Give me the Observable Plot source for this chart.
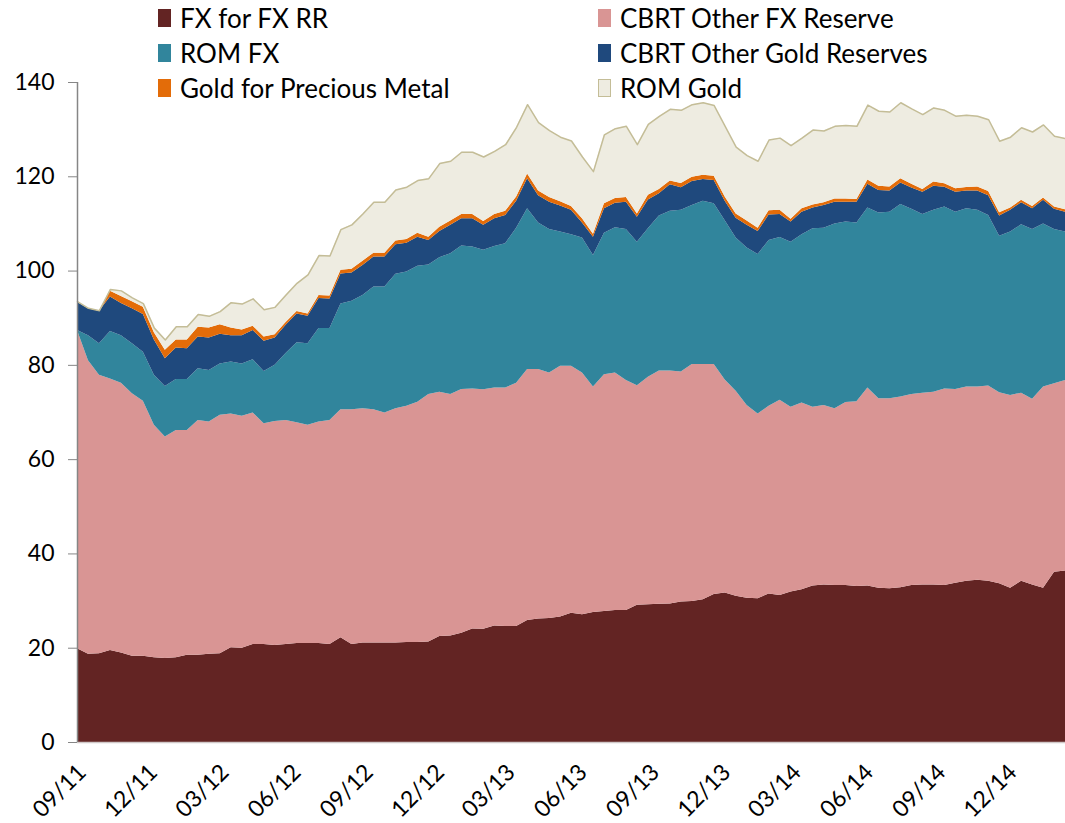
<!DOCTYPE html>
<html><head><meta charset="utf-8">
<script src="https://cdn.jsdelivr.net/npm/d3@7"></script>
<script src="https://cdn.jsdelivr.net/npm/@observablehq/plot@0.6"></script>
<style>
body{margin:0;background:#fff;font-family:Lato,"Open Sans",sans-serif;}
#wrap{position:relative;width:1065px;height:823px;overflow:hidden;}
#legend{position:absolute;left:0;top:0;width:1065px;height:110px;}
.item{position:absolute;display:flex;align-items:center;font-size:26px;color:#000;line-height:30px;height:30px;white-space:nowrap;}
.sw{width:13px;height:18px;margin-right:9px;box-sizing:border-box;}
</style></head>
<body><div id="wrap"><div id="chart"></div><div id="legend"></div></div>
<script>
const seriesNames = ["FX for FX RR","CBRT Other FX Reserve","ROM FX","CBRT Other Gold Reserves","Gold for Precious Metal","ROM Gold"];
const seriesColors = ["#632423","#D99594","#31859C","#1F497D","#E36C09","#EEECE1"];
const startDate = "2011-08-26"; // bi-weekly observations
const stepDays = 14;
const xTickLabels = ["09/11","12/11","03/12","06/12","09/12","12/12","03/13","06/13","09/13","12/13","03/14","06/14","09/14","12/14"];
const yTicks = [0,20,40,60,80,100,120,140];

const fxForFxRR = [19.9,18.7,18.8,19.5,19.0,18.3,18.3,18.0,17.8,18.0,18.5,18.5,18.7,18.8,20.1,20.0,20.8,20.8,20.6,20.8,21.0,21.0,21.0,20.8,22.2,20.8,21.1,21.1,21.1,21.1,21.2,21.2,21.3,22.5,22.6,23.2,24.1,24.0,24.7,24.6,24.6,25.9,26.2,26.3,26.6,27.4,27.1,27.6,27.8,28.0,28.0,29.1,29.2,29.3,29.4,29.8,29.9,30.3,31.4,31.7,31.0,30.6,30.5,31.5,31.2,31.9,32.4,33.2,33.4,33.3,33.3,33.1,33.2,32.7,32.6,32.8,33.3,33.4,33.4,33.3,33.8,34.2,34.4,34.2,33.7,32.7,34.2,33.4,32.7,36.1,36.4];
const cbrtOtherFX = [67.5,62.3,59.1,57.6,57.2,55.7,54.1,49.3,47.0,48.2,47.7,49.8,49.3,50.6,49.6,49.2,49.1,46.8,47.5,47.5,46.8,46.3,47.0,47.5,48.4,49.8,49.7,49.5,48.8,49.7,50.1,51.0,52.5,51.8,51.2,51.7,50.9,50.8,50.5,50.6,51.6,53.2,52.9,52.1,53.2,52.4,51.3,47.8,50.2,50.4,48.8,46.6,48.3,49.5,49.4,48.8,50.3,49.9,48.8,45.2,43.5,40.9,39.2,39.8,41.4,39.2,39.6,37.9,38.1,37.5,38.8,39.2,42.0,40.2,40.3,40.5,40.5,40.7,40.9,41.7,41.1,41.2,41.0,41.4,40.5,40.9,39.9,39.4,42.7,40.0,40.4];
const romFX = [0,5.3,6.7,10.1,10.1,10.6,10.4,10.6,10.7,10.8,10.8,11.0,10.9,10.9,11.0,11.1,11.3,11.1,11.9,14.2,17.0,17.3,19.8,19.5,22.4,23.0,24.0,26.0,26.7,28.5,28.5,28.8,27.5,28.5,29.9,30.4,30.1,29.6,30.0,30.6,32.9,34.1,31.1,30.4,28.5,27.9,28.6,27.9,30.0,30.8,32.0,30.4,31.5,32.9,33.9,34.3,33.7,34.6,34.1,33.8,32.5,33.4,33.8,35.2,34.5,35.0,35.7,37.9,37.6,39.2,38.3,37.9,38.2,39.4,39.6,40.8,39.3,37.9,38.6,38.6,37.6,37.8,37.5,36.2,33.2,34.7,35.7,36.0,34.6,32.7,31.5];
const cbrtOtherGold = [6.0,5.7,6.9,7.3,6.8,7.4,8.0,7.5,5.9,6.7,6.5,6.7,6.9,6.3,5.6,6.0,6.2,6.4,5.8,6.0,6.1,5.8,6.4,6.3,6.4,6.0,6.4,6.4,6.4,6.3,6.1,6.2,5.2,5.6,6.0,5.8,6.0,5.3,5.9,6.0,5.7,6.4,5.8,5.8,5.5,5.2,3.2,3.9,5.2,5.2,5.8,5.3,6.1,4.7,5.6,4.8,5.1,4.6,4.9,4.1,4.2,4.8,4.9,5.4,4.9,4.3,4.8,4.4,4.8,4.6,4.2,4.4,5.0,4.8,4.5,4.6,4.5,4.7,5.1,4.2,4.2,3.8,4.1,4.2,4.3,4.6,4.7,4.4,5.0,4.3,4.2];
const goldPreciousMetal = [0,0,0,1.2,1.5,1.5,1.5,1.5,1.8,1.7,1.9,2.1,2.1,2.0,1.6,1.2,0.9,0.9,0.7,0.6,0.5,0.5,0.6,0.6,0.8,0.8,0.9,0.8,0.8,0.8,0.8,0.8,0.7,0.9,0.9,0.9,0.9,0.8,0.9,0.9,0.9,1.0,1.0,1.0,0.9,0.8,0.9,0.6,1.1,1.0,1.0,0.7,1.0,0.9,0.8,0.9,0.9,0.9,0.9,0.9,0.9,0.9,0.7,0.9,0.9,0.6,0.7,0.6,0.6,0.7,0.7,0.6,0.9,0.9,0.85,0.9,0.8,0.6,0.9,0.7,0.75,0.75,0.85,0.9,0.65,0.5,0.5,0.5,0.5,0.5,0.5];
const romGold = [0.1,0.1,0.1,0.4,1.2,0.8,0.8,1.0,2.2,2.8,2.8,2.7,2.5,2.8,5.4,5.5,5.8,5.8,5.8,5.8,6.0,8.3,8.5,8.5,8.6,9.4,10.0,10.8,10.8,10.8,11.1,11.2,12.4,13.5,12.7,13.2,13.2,13.7,13.4,14.1,14.8,14.7,14.5,14.2,13.7,13.9,13.1,13.3,14.6,14.8,15.1,14.7,15.0,15.5,15.2,15.5,15.4,15.4,15.0,15.0,14.2,13.9,14.2,15.0,15.3,15.6,15.0,15.9,15.2,15.4,15.6,15.5,15.9,15.9,15.9,16.1,16.0,15.9,15.7,15.6,15.4,15.3,15.0,15.2,15.2,15.0,15.4,15.8,15.5,15.0,15.1];

const seriesValues = [fxForFxRR, cbrtOtherFX, romFX, cbrtOtherGold, goldPreciousMetal, romGold];
const start = d3.utcParse("%Y-%m-%d")(startDate);
const dates = fxForFxRR.map((_, i) => d3.utcDay.offset(start, stepDays * i));
const xTicks = xTickLabels.map(d3.utcParse("%m/%y"));

const rows = [];
seriesNames.forEach((name, s) => {
  seriesValues[s].forEach((v, i) => rows.push({date: dates[i], series: name, value: v}));
});

const chart = Plot.plot({
  width: 1065, height: 823,
  marginLeft: 77, marginRight: 0, marginTop: 82, marginBottom: 81,
  style: {fontFamily: "Lato, 'Open Sans', sans-serif", fontSize: "22px", background: "white", color: "#000"},
  x: {type: "utc", domain: [dates[0], dates[dates.length - 1]]},
  y: {domain: [0, 140]},
  color: {domain: seriesNames, range: seriesColors},
  marks: [
    Plot.areaY(rows, {x: "date", y: "value", z: "series", fill: "series", order: seriesNames, curve: "linear"}),
    Plot.lineY(rows, Plot.stackY2({x: "date", y: "value", z: "series", order: seriesNames, stroke: "#C4BD97", strokeWidth: 1.5, strokeOpacity: d => d.series === "ROM Gold" ? 1 : 0})),
    Plot.ruleY([0], {stroke: "#d0c8c8", strokeWidth: 1.5}),
    Plot.ruleX([dates[0]], {y1: 0, y2: 140, stroke: "#868686", strokeWidth: 1.5}),
    Plot.axisY({ticks: yTicks, tickSize: 9, tickPadding: 14, stroke: "#868686", fill: "#000", fontSize: 23, label: null}),
    Plot.axisX({ticks: xTicks, tickFormat: d3.utcFormat("%m/%y"), tickRotate: -45, tickSize: 0, tickPadding: 26, fill: "#000", fontSize: 23, label: null})
  ]
});
document.getElementById("chart").appendChild(chart);

const legendLayout = [[158, 18], [598, 18], [158, 53], [598, 53], [158, 88], [598, 88]];
const legendOrder = ["FX for FX RR","CBRT Other FX Reserve","ROM FX","CBRT Other Gold Reserves","Gold for Precious Metal","ROM Gold"];
const legend = document.getElementById("legend");
legendOrder.forEach((name, k) => {
  const [lx, ly] = legendLayout[k];
  const item = document.createElement("div");
  item.className = "item";
  item.style.left = lx + "px";
  item.style.top = (ly - 15) + "px";
  const sw = document.createElement("div");
  sw.className = "sw";
  sw.style.background = seriesColors[seriesNames.indexOf(name)];
  if (name === "ROM Gold") sw.style.border = "1px solid #C4BD97";
  const tx = document.createElement("span");
  tx.textContent = name;
  item.appendChild(sw); item.appendChild(tx);
  legend.appendChild(item);
});
</script></body></html>
